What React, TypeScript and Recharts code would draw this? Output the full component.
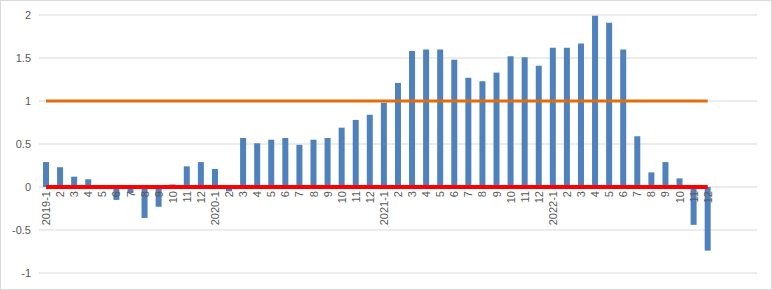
import { ComposedChart, Bar, Line, XAxis, YAxis, CartesianGrid, LabelList } from "recharts";

// month labels, 2019-1 .. 2022-12, then three empty slots Excel leaves at the end
const months = [
  "2019-1", "2", "3", "4", "5", "6", "7", "8", "9", "10", "11", "12",
  "2020-1", "2", "3", "4", "5", "6", "7", "8", "9", "10", "11", "12",
  "2021-1", "2", "3", "4", "5", "6", "7", "8", "9", "10", "11", "12",
  "2022-1", "2", "3", "4", "5", "6", "7", "8", "9", "10", "11", "12",
  "", "", "",
];

const values = [
  0.29, 0.23, 0.12, 0.09, 0, -0.15, -0.07, -0.36, -0.23, 0.03, 0.24, 0.29,
  0.21, -0.05, 0.57, 0.51, 0.55, 0.57, 0.49, 0.55, 0.57, 0.69, 0.78, 0.84,
  0.98, 1.21, 1.58, 1.6, 1.6, 1.48, 1.27, 1.23, 1.33, 1.52, 1.51, 1.41,
  1.62, 1.62, 1.67, 1.99, 1.91, 1.6, 0.59, 0.17, 0.29, 0.1, -0.44, -0.74,
  null, null, null,
];

const TARGET_LEVEL = 1;
const BASE_LEVEL = 0;
const yTicks = [-1, -0.5, 0, 0.5, 1, 1.5, 2];

const data = months.map((m, i) => ({
  idx: i,
  label: m,
  value: values[i],
  target: values[i] === null ? null : TARGET_LEVEL,
  base: values[i] === null ? null : BASE_LEVEL,
}));

const axisText = "#595959";
const font = "'Liberation Sans', Arial, sans-serif";

function MonthLabel(props: any) {
  const { x, y, value } = props;
  if (!value || x == null || y == null) return null;
  return (
    <text
      transform={`translate(${x},${y + 4}) rotate(-90)`}
      textAnchor="end"
      dominantBaseline="central"
      fontSize={11}
      fontFamily={font}
      fill={axisText}
    >
      {value}
    </text>
  );
}

export default function App() {
  return (
    <div
      style={{
        position: "absolute",
        left: 0,
        top: 0,
        width: 770,
        height: 288,
        border: "1px solid #d9d9d9",
        background: "#fff",
      }}
    >
      <ComposedChart width={770} height={288} data={data} margin={{ top: 14, right: 14, left: 0, bottom: 16 }}>
        <CartesianGrid vertical={false} stroke="#d9d9d9" />
        <XAxis dataKey="idx" type="category" hide />
        <YAxis
          domain={[-1, 2]}
          ticks={yTicks}
          width={38}
          axisLine={false}
          tickLine={false}
          interval={0}
          tick={{ fontSize: 11, fill: axisText, fontFamily: font }}
        />
        <Bar dataKey="value" fill="#4f81bd" barSize={6} isAnimationActive={false} />
        <Line
          dataKey="target"
          stroke="#e46c0a"
          strokeWidth={3}
          dot={false}
          activeDot={false}
          type="linear"
          isAnimationActive={false}
        />
        <Line
          dataKey="base"
          stroke="#ff0000"
          strokeWidth={4}
          dot={false}
          activeDot={false}
          type="linear"
          isAnimationActive={false}
        >
          <LabelList dataKey="label" content={<MonthLabel />} />
        </Line>
      </ComposedChart>
    </div>
  );
}
